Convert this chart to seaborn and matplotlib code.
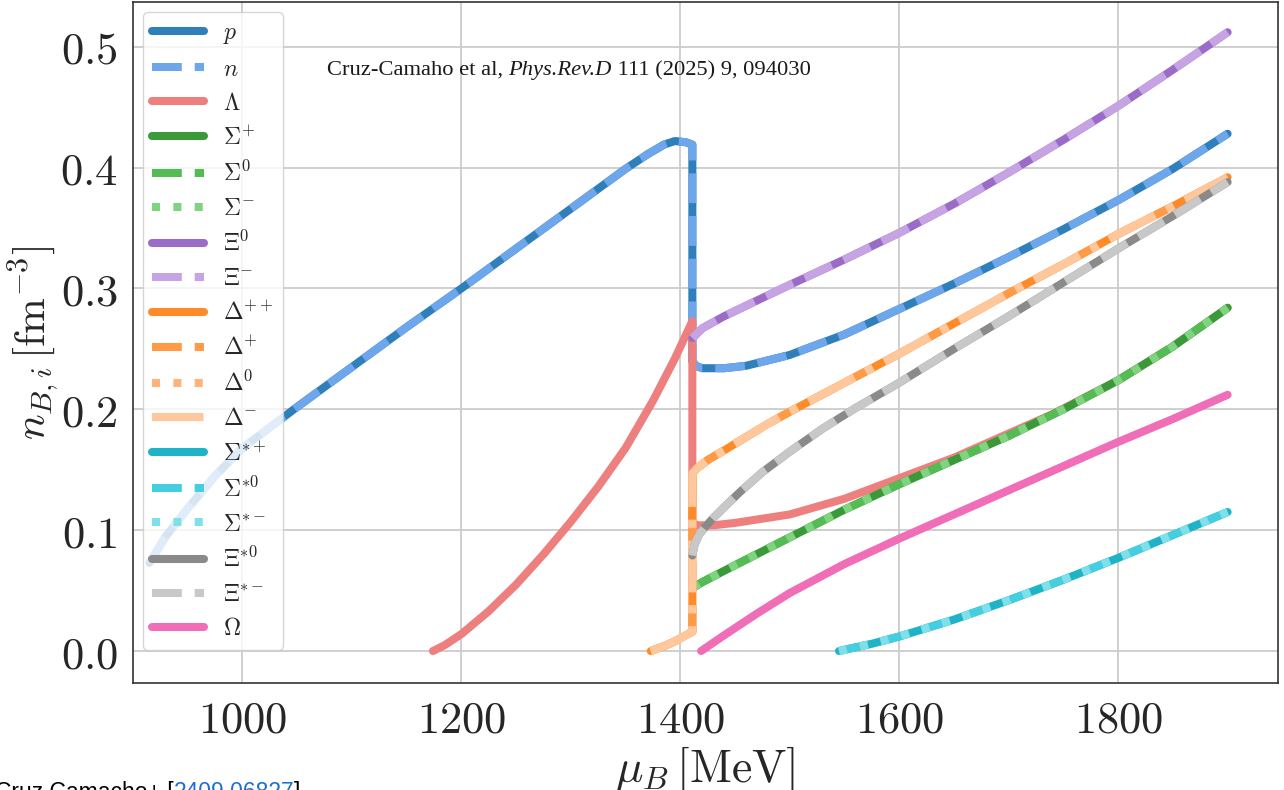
import matplotlib
matplotlib.use("Agg")
import matplotlib.pyplot as plt
import seaborn as sns
from matplotlib.ticker import FuncFormatter

# baryon densities n_{B,i} [fm^-3] vs mu_B [MeV]
mu_nucleon = [915, 930, 950, 975, 1000, 1050, 1100, 1150, 1200, 1250, 1300, 1350,
              1370, 1385, 1395, 1405, 1411, 1411, 1414, 1420, 1440, 1460, 1500,
              1550, 1600, 1650, 1700, 1750, 1800, 1850, 1900]
n_nucleon = [0.073, 0.095, 0.118, 0.145, 0.168, 0.202, 0.235, 0.268, 0.300, 0.333,
             0.366, 0.399, 0.411, 0.419, 0.422, 0.421, 0.419, 0.240, 0.236, 0.234,
             0.234, 0.236, 0.245, 0.262, 0.283, 0.304, 0.326, 0.349, 0.373, 0.399, 0.428]

mu_lambda = [1174, 1185, 1200, 1225, 1250, 1275, 1300, 1325, 1350, 1375, 1395,
             1411, 1411, 1416, 1430, 1450, 1500, 1550, 1600, 1650, 1700, 1740,
             1770, 1800, 1850, 1900]
n_lambda = [0.000, 0.005, 0.014, 0.033, 0.055, 0.080, 0.107, 0.136, 0.168, 0.207,
            0.242, 0.273, 0.106, 0.104, 0.104, 0.106, 0.113, 0.126, 0.143, 0.160,
            0.180, 0.196, 0.210, 0.224, 0.252, 0.284]

mu_sigma = [1411, 1420, 1450, 1500, 1550, 1600, 1650, 1700, 1750, 1800, 1850, 1900]
n_sigma = [0.052, 0.057, 0.071, 0.094, 0.117, 0.138, 0.158, 0.178, 0.200, 0.224,
           0.252, 0.284]

mu_xi = [1411, 1420, 1440, 1470, 1500, 1550, 1600, 1650, 1700, 1750, 1800, 1850, 1900]
n_xi = [0.259, 0.267, 0.277, 0.290, 0.303, 0.324, 0.346, 0.370, 0.396, 0.423, 0.451,
        0.481, 0.512]

mu_delta = [1373, 1385, 1395, 1403, 1411, 1411, 1415, 1425, 1440, 1460, 1480, 1500,
            1550, 1600, 1650, 1700, 1750, 1800, 1850, 1900]
n_delta = [0.000, 0.004, 0.008, 0.012, 0.016, 0.147, 0.151, 0.158, 0.166, 0.177,
           0.188, 0.198, 0.222, 0.246, 0.271, 0.296, 0.320, 0.345, 0.368, 0.392]

mu_sigmastar = [1545, 1575, 1600, 1650, 1700, 1750, 1800, 1850, 1900]
n_sigmastar = [0.000, 0.006, 0.012, 0.026, 0.042, 0.059, 0.077, 0.096, 0.115]

mu_xistar = [1411, 1413, 1417, 1423, 1430, 1440, 1455, 1475, 1500, 1530, 1560,
             1600, 1650, 1700, 1750, 1800, 1850, 1900]
n_xistar = [0.079, 0.088, 0.096, 0.103, 0.110, 0.119, 0.132, 0.148, 0.165, 0.184,
            0.201, 0.222, 0.250, 0.277, 0.305, 0.333, 0.360, 0.388]

mu_omega = [1419, 1440, 1470, 1500, 1550, 1600, 1650, 1700, 1750, 1800, 1850, 1900]
n_omega = [0.000, 0.013, 0.031, 0.048, 0.072, 0.093, 0.113, 0.133, 0.153, 0.173,
           0.192, 0.212]

curves = {
    "N": (mu_nucleon, n_nucleon),
    "L": (mu_lambda, n_lambda),
    "S": (mu_sigma, n_sigma),
    "X": (mu_xi, n_xi),
    "D": (mu_delta, n_delta),
    "S*": (mu_sigmastar, n_sigmastar),
    "X*": (mu_xistar, n_xistar),
    "O": (mu_omega, n_omega),
}

# label, curve, colour, linestyle (drawn in this order)
species = [
    (r"$p$", "N", "#2f7fba", "-"),
    (r"$n$", "N", "#6ea6ec", "--"),
    (r"$\Lambda$", "L", "#ee7f7f", "-"),
    (r"$\Sigma^{+}$", "S", "#3a9a3a", "-"),
    (r"$\Sigma^{0}$", "S", "#55bb55", "--"),
    (r"$\Sigma^{-}$", "S", "#80d480", ":"),
    (r"$\Xi^{0}$", "X", "#9a6cc8", "-"),
    (r"$\Xi^{-}$", "X", "#c6a4e4", "--"),
    (r"$\Delta^{++}$", "D", "#ff8a28", "-"),
    (r"$\Delta^{+}$", "D", "#ff9a46", "--"),
    (r"$\Delta^{0}$", "D", "#ffb27a", ":"),
    (r"$\Delta^{-}$", "D", "#ffc89c", "-."),
    (r"$\Sigma^{*+}$", "S*", "#1fb3c8", "-"),
    (r"$\Sigma^{*0}$", "S*", "#45cde0", "--"),
    (r"$\Sigma^{*-}$", "S*", "#80e0ea", ":"),
    (r"$\Xi^{*0}$", "X*", "#8a8a8a", "-"),
    (r"$\Xi^{*-}$", "X*", "#c8c8c8", "--"),
    (r"$\Omega$", "O", "#f06eb8", "-"),
]

sns.set_theme(style="whitegrid")
plt.rcParams["mathtext.fontset"] = "cm"
plt.rcParams["font.family"] = ["DejaVu Serif"]

fig = plt.figure(figsize=(12.84, 7.9), dpi=100)
ax = fig.add_axes([0.1036, 0.1354, 0.8917, 0.8620])

for label, key, color, ls in species:
    xs, ys = curves[key]
    sns.lineplot(x=xs, y=ys, ax=ax, sort=False, estimator=None, color=color,
                 linestyle=ls, linewidth=5.8, label=label)

ax.set_xlim(900, 1946)
ax.set_ylim(-0.0265, 0.537)
ax.set_xticks([1000, 1200, 1400, 1600, 1800])
ax.set_yticks([0.0, 0.1, 0.2, 0.3, 0.4, 0.5])
ax.xaxis.set_major_formatter(FuncFormatter(lambda v, p: f"${v:.0f}$"))
ax.yaxis.set_major_formatter(FuncFormatter(lambda v, p: f"${v:.1f}$"))
ax.tick_params(labelsize=32, length=5, width=1, color="0.3", direction="out", pad=6)
ax.grid(True, color="#cccccc", linewidth=1.3)
for sp in ax.spines.values():
    sp.set_color("0.2")
    sp.set_linewidth(1.2)

ax.set_xlabel(r"$\mu_B\,[\mathrm{MeV}]$", fontsize=33, labelpad=2)
ax.set_ylabel(r"$n_{B,i}\,[\mathrm{fm}^{-3}]$", fontsize=31)
ax.yaxis.set_label_coords(-0.063, 0.5)

ax.legend(loc="upper left", fontsize=17, handlelength=2.2, framealpha=0.8,
          edgecolor="0.8", fancybox=True, labelspacing=0.47, borderaxespad=0.42)

t1 = ax.text(0.169, 0.8855, "Cruz-Camaho et al, ", transform=ax.transAxes,
             fontsize=16.2, family="Liberation Serif", color="0.1", va="bottom")
t2 = ax.annotate("Phys.Rev.D", xy=(1, 0), xycoords=t1, va="bottom", fontsize=16.2,
                 family="Liberation Serif", style="italic", color="0.1")
ax.annotate(" 111 (2025) 9, 094030", xy=(1, 0), xycoords=t2, va="bottom",
            fontsize=16.2, family="Liberation Serif", color="0.1")

c1 = fig.text(-0.004, -0.011, "Cruz Camacho+ [", fontsize=16.5,
              family="Liberation Sans", color="black", va="baseline")
c2 = fig.text(0, 0, "2409.06827", fontsize=16.5, family="Liberation Sans",
              color="#1a6fd6", va="baseline")
fig.canvas.draw()
bb = c1.get_window_extent()
c2.set_position((bb.x1 / fig.bbox.width, -0.011))
fig.canvas.draw()
bb2 = c2.get_window_extent()
fig.text(bb2.x1 / fig.bbox.width, -0.011, "]", fontsize=16.5,
         family="Liberation Sans", color="black", va="baseline")

fig.savefig("out.png", dpi=100)
